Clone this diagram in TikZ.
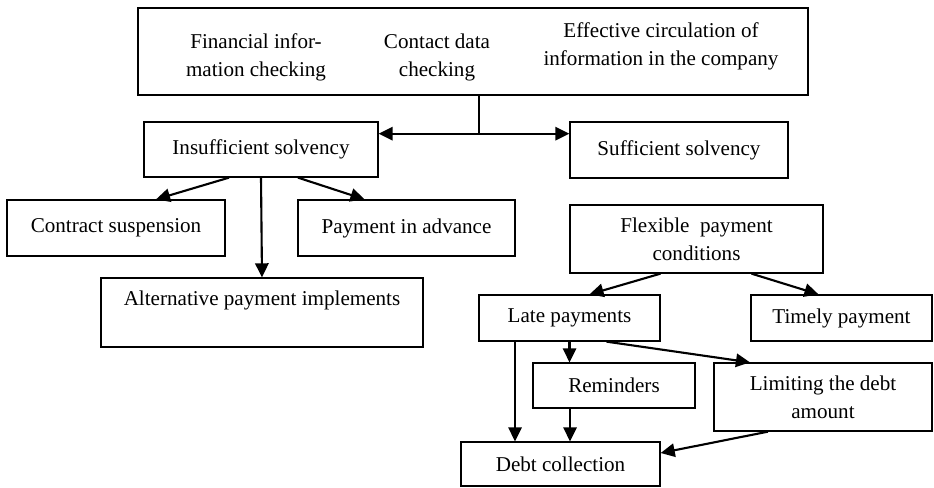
\documentclass[tikz,border=0pt]{standalone}
\usepackage{fontspec}
\setmainfont{Liberation Serif}
\usepackage{tikz}
\usetikzlibrary{shapes,positioning,calc}
\usetikzlibrary{arrows.meta}
\tikzstyle{blocco} = [rectangle, draw=black, line width=0.9pt, inner sep=0pt, text centered, align=center]
\tikzstyle{testo} = [inner sep=0pt, align=center]
\tikzstyle{freccia} = [line width=1.5pt,-{Triangle[length=10pt,width=9.5pt]}]

\begin{document}
\begin{tikzpicture}[x=0.025cm,y=-0.025cm,font=\fontsize{15}{20}\selectfont]
						\useasboundingbox (0,0) rectangle (934,487);
						\node (top) at (473,51.5) [blocco, minimum width=16.75cm, minimum height=2.175cm] {};
						\node (fin) at (256,57.5) [testo] {Financial infor-\\mation checking};
						\node (cnt) at (437,57.5) [testo] {Contact data\\checking};
						\node (eff) at (661,46) [testo] {Effective circulation of\\information in the company};
						\node (ins) at (261,149.5) [blocco, minimum width=5.85cm, minimum height=1.375cm] {Insufficient solvency};
						\node (suf) at (679,150) [blocco, minimum width=5.45cm, minimum height=1.4cm] {Sufficient solvency};
						\node (con) at (116,228) [blocco, minimum width=5.45cm, minimum height=1.4cm] {Contract suspension};
						\node (adv) at (406.5,228) [blocco, minimum width=5.425cm, minimum height=1.4cm] {Payment in advance};
						\node (alt) at (262,312.5) [blocco, minimum width=8.05cm, minimum height=1.725cm] {Alternative payment implements\\ \mbox{}};
						\node (flex) at (696.5,239) [blocco, minimum width=6.325cm, minimum height=1.7cm] {Flexible\ \ payment\\conditions};
						\node (late) at (569.5,318) [blocco, minimum width=4.525cm, minimum height=1.15cm] {Late payments};
						\node (tim) at (841.5,318) [blocco, minimum width=4.525cm, minimum height=1.15cm] {Timely payment};
						\node (rem) at (614,385.5) [blocco, minimum width=4.05cm, minimum height=1.125cm] {Reminders};
						\node (lim) at (823,397) [blocco, minimum width=5.45cm, minimum height=1.7cm] {Limiting the debt\\amount};
						\node (debt) at (560.5,464) [blocco, minimum width=4.975cm, minimum height=1.1cm] {Debt collection};
						\coordinate (split) at ($(top.south)+(6,38)$);
						\draw[line width=0.9pt] ($(top.south)+(6,0)$) -- (split);
						\draw[freccia] (split) -- (ins.east |- split);
						\draw[freccia] (split) -- (suf.west |- split);
						\draw[freccia] ($(ins.south)+(-32,0)$) -- ($(con.north)+(40,0)$);
						\draw[freccia] ($(ins.south)+(37,0)$) -- ($(adv.north)+(-42,0)$);
						\draw[freccia] (ins.south) -- (alt.north);
						\draw[freccia] ($(flex.south)+(-36,0)$) -- ($(late.north)+(20,0)$);
						\draw[freccia] ($(flex.south)+(55,0)$) -- ($(tim.north)+(-23,0)$);
						\draw[freccia] (late.south) -- (late.south |- rem.north);
						\draw[freccia] ($(late.south)+(37,0)$) -- ($(lim.north)+(-73,0)$);
						\coordinate (lp) at ($(late.south)+(-54.5,0)$);
						\draw[freccia] (lp) -- (lp |- debt.north);
						\coordinate (rp) at ($(rem.south)+(-44,0)$);
						\draw[freccia] (rp) -- (rp |- debt.north);
						\draw[freccia] ($(lim.south)+(-55,0)$) -- ($(debt.east)+(0,-11)$);
					\end{tikzpicture}
\end{document}
